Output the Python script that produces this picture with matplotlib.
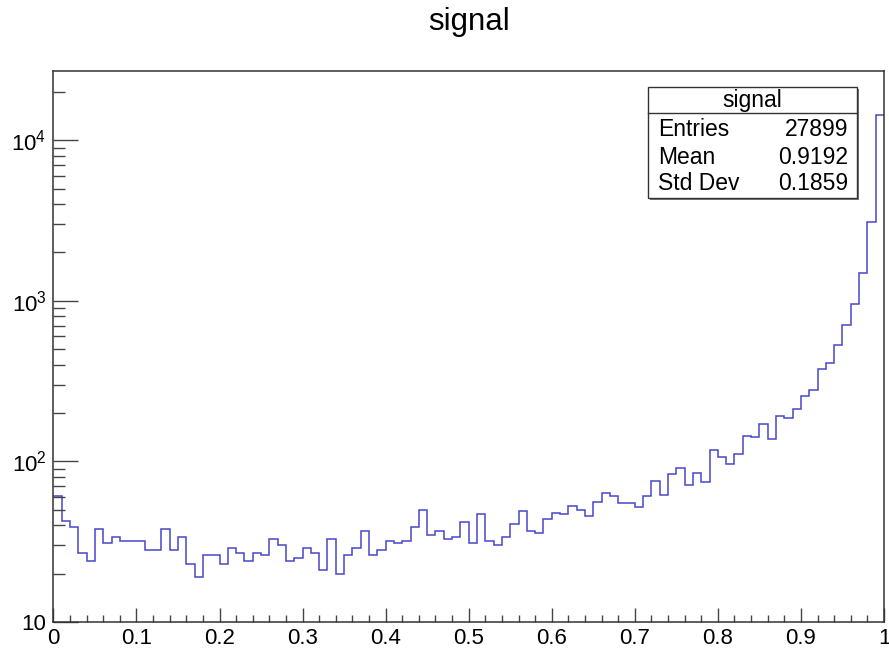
import numpy as np
import matplotlib
matplotlib.use("Agg")
import matplotlib.pyplot as plt
from matplotlib.patches import Rectangle
from matplotlib.lines import Line2D
from matplotlib.ticker import FixedLocator, FixedFormatter, MultipleLocator

# ---- data ----
title = "signal"
x_min, x_max, n_bins = 0.0, 1.0, 100
counts = [61, 42.5, 39, 27, 24, 38, 31, 34, 32, 32,
          32, 28, 28, 38, 28, 34, 23, 19, 26, 26,
          23, 29, 27, 24, 27, 26, 33, 30, 24, 25,
          29, 27, 21, 33, 20, 26, 29, 37, 26, 28,
          32, 31, 32, 39, 50, 35, 37, 33, 34, 42,
          31, 47, 32, 30, 34, 41, 49, 37, 36, 44,
          48, 47, 53, 50, 46, 56, 64, 61, 55, 55,
          52, 61, 75, 62, 83, 91, 71, 85, 74, 118,
          107, 97, 111, 144, 141, 172, 138, 192, 186, 211,
          254, 277, 374, 412, 528, 710, 959, 1484, 3097, 14374]
y_major = [10, 100, 1000, 10000]
y_labels = ["10", r"$10^{2}$", r"$10^{3}$", r"$10^{4}$"]
x_ticks = [0, 0.1, 0.2, 0.3, 0.4, 0.5, 0.6, 0.7, 0.8, 0.9, 1.0]
x_labels = ["0", "0.1", "0.2", "0.3", "0.4", "0.5", "0.6", "0.7", "0.8", "0.9", "1"]
stat_names = ["Entries", "Mean", "Std Dev"]
stat_values = ["27899", "0.9192", "0.1859"]
y_lo, y_hi = 10, 27100

plt.rcParams['font.family'] = ['Liberation Sans', 'DejaVu Sans']
plt.rcParams['mathtext.fontset'] = 'custom'
plt.rcParams['mathtext.rm'] = 'Liberation Sans'
plt.rcParams['mathtext.it'] = 'Liberation Sans'

W, H = 889, 654
PX = 0.72  # points per pixel at dpi 100
fig = plt.figure(figsize=(W / 100, H / 100), dpi=100)
L, R, T, B = 53.4, 884, 70.7, 622
ax = fig.add_axes([L / W, 1 - B / H, (R - L) / W, (B - T) / H])

edges = np.linspace(x_min, x_max, n_bins + 1)
ax.stairs(counts, edges, color='#4646cc', linewidth=1.1, baseline=None)

ax.set_yscale('log')
ax.set_xlim(x_min, x_max)
ax.set_ylim(y_lo, y_hi)

ax.yaxis.set_major_locator(FixedLocator(y_major))
ax.yaxis.set_major_formatter(FixedFormatter(y_labels))
minors = [m * 10 ** e for e in range(1, 5) for m in range(2, 10)]
ax.yaxis.set_minor_locator(FixedLocator(minors))
ax.yaxis.set_minor_formatter(FixedFormatter([""] * len(minors)))

ax.xaxis.set_major_locator(FixedLocator(x_ticks))
ax.xaxis.set_major_formatter(FixedFormatter(x_labels))
ax.xaxis.set_minor_locator(MultipleLocator(0.02))

ax.tick_params(axis='y', which='major', direction='in', length=25 * PX, width=1, labelsize=16, pad=5, color='#444444')
ax.tick_params(axis='y', which='minor', direction='in', length=12 * PX, width=1, color='#444444')
ax.tick_params(axis='x', which='major', direction='in', length=14 * PX, width=1, labelsize=16, pad=4, color='#444444')
ax.tick_params(axis='x', which='minor', direction='in', length=7 * PX, width=1, color='#444444')
for s in ax.spines.values():
    s.set_linewidth(1.1)
    s.set_color('#333333')

fig.text(469 / W, 1 - 22 / H, title, ha='center', va='center', fontsize=22.5)

# stats box
def fx(x):
    return x / W

def fy(y):
    return 1 - y / H

bx0, bx1, by0, by1 = 648, 857, 87, 198
fig.patches.append(Rectangle((fx(bx0 + 2), fy(by1 + 2)), fx(bx1 - bx0), (by1 - by0) / H,
                             transform=fig.transFigure, facecolor='#777777', edgecolor='none', zorder=5))
fig.patches.append(Rectangle((fx(bx0), fy(by1)), fx(bx1 - bx0), (by1 - by0) / H,
                             transform=fig.transFigure, facecolor='white', edgecolor='#333333',
                             linewidth=1, zorder=6))
fig.lines.append(Line2D([fx(bx0), fx(bx1)], [fy(113), fy(113)], transform=fig.transFigure,
                        color='#333333', linewidth=1, zorder=7))
fig.text(fx((bx0 + bx1) / 2), fy(100), title, ha='center', va='center', fontsize=16.5, zorder=8)
for i, (n, v) in enumerate(zip(stat_names, stat_values)):
    yy = fy(130 + 27 * i)
    fig.text(fx(658), yy, n, ha='left', va='center', fontsize=16.5, zorder=8)
    fig.text(fx(848), yy, v, ha='right', va='center', fontsize=16.5, zorder=8)

fig.savefig('out.png', dpi=100)
